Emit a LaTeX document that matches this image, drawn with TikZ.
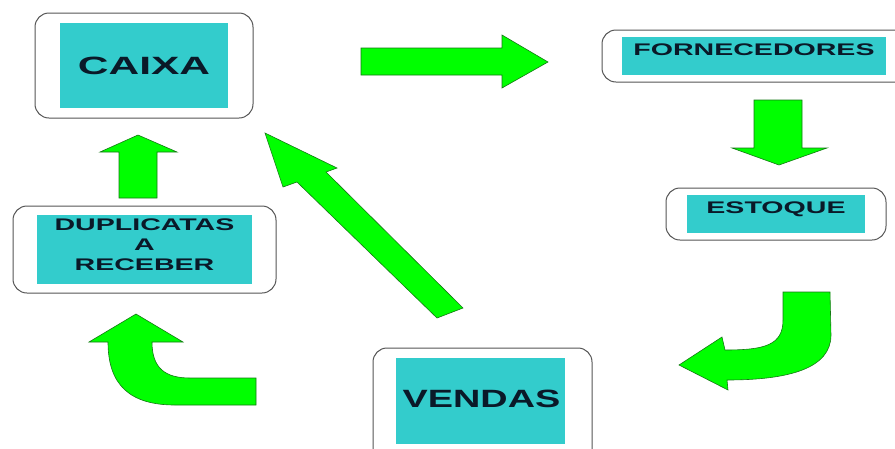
\documentclass[tikz,border=0pt]{standalone}
\usepackage{fontspec}
\usepackage{tikz}
\usetikzlibrary{positioning}
\newfontfamily\boxfont[FakeStretch=1.7]{Liberation Sans Bold}
\definecolor{tealfill}{RGB}{51,204,204}
\definecolor{inkblue}{RGB}{10,25,40}
\definecolor{boxgray}{RGB}{85,85,85}
\definecolor{arrowgreen}{RGB}{0,255,0}
\definecolor{arrowedge}{RGB}{20,120,20}
\begin{document}
\begin{tikzpicture}[
  x=1pt, y=-1pt,
  outerbox/.style={draw=boxgray, line width=1pt, rounded corners=14pt, outer sep=0pt},
  tealbox/.style={fill=tealfill, inner sep=0pt, outer sep=0pt},
  tag/.style={font=\boxfont\fontsize{25}{30}\selectfont, text=inkblue, inner sep=0pt},
  smalltag/.style={tag, font=\boxfont\fontsize{16.8}{20}\selectfont, align=center},
  bigarrow/.style={fill=arrowgreen, draw=arrowedge, line width=0.6pt}
]
\clip (0,0) rectangle (895,448);
% boxes
\node[outerbox, minimum width=218, minimum height=105] (caixa)  at (144,65.5)  {};
\node[outerbox, minimum width=308, minimum height=52]  (forn)   at (756,56)    {};
\node[outerbox, minimum width=220, minimum height=52]  (estq)   at (776,214)   {};
\node[outerbox, minimum width=263, minimum height=87]  (dupl)   at (144.5,249.5) {};
\node[outerbox, minimum width=219, minimum height=122] (vendas) at (482.5,409) {};
\node[tealbox, minimum width=168, minimum height=85] (caixabg)  at (caixa)  {};
\node[tealbox, minimum width=264, minimum height=38] (fornbg)   at (754,56)  {};
\node[tealbox, minimum width=178, minimum height=38] (estqbg)   at (estq)   {};
\node[tealbox, minimum width=215, minimum height=69] (duplbg)   at (dupl)   {};
\node[tealbox, minimum width=169, minimum height=86] (vendasbg) at (480.5,401) {};
% labels
\node[tag] (caixatxt) at (caixabg) {CAIXA};
\node[tag, xscale=0.89] (vendastxt) at ([xshift=1pt,yshift=2pt]vendasbg.center) {VENDAS};
\node[smalltag, anchor=base] (forntxt) at ([yshift=-18pt]fornbg.north) {FORNECEDORES};
\node[smalltag, anchor=base] (estqtxt) at ([yshift=-18pt]estqbg.north) {ESTOQUE};
\node[smalltag] (dupltxt) at ([yshift=5pt]duplbg.center) {DUPLICATAS\\A\\RECEBER};
% block arrows
\draw[bigarrow] (361,48) -- (502,48) -- (502,35) -- (548,62) -- (502,88) -- (502,75) -- (361,75) -- cycle;
\draw[bigarrow] (754,100) -- (802,100) -- (802,148) -- (827,148) -- (779,165) -- (732,148) -- (754,148) -- cycle;
\draw[bigarrow] (119,198) -- (119,152) -- (100,152) -- (138,135) -- (177,152) -- (157,152) -- (157,198) -- cycle;
\draw[bigarrow] (265,133) -- (283,187) -- (297,182) -- (437,318) -- (463,308) -- (326,172) -- (337,168) -- cycle;
\draw[bigarrow] (256,405) -- (175,405) .. controls (130,405) and (108,385) .. (108,342)
  -- (89,342) -- (136,314) -- (183,342) -- (152,342)
  .. controls (152,368) and (165,378) .. (190,378) -- (256,378) -- cycle;
\draw[bigarrow] (783,292) -- (830,292) -- (831,335) .. controls (831,368) and (790,380) .. (727,380)
  -- (728,390) -- (679,365) -- (722,337) -- (725,350)
  .. controls (765,350) and (783,345) .. (783,320) -- cycle;
\end{tikzpicture}
\end{document}
